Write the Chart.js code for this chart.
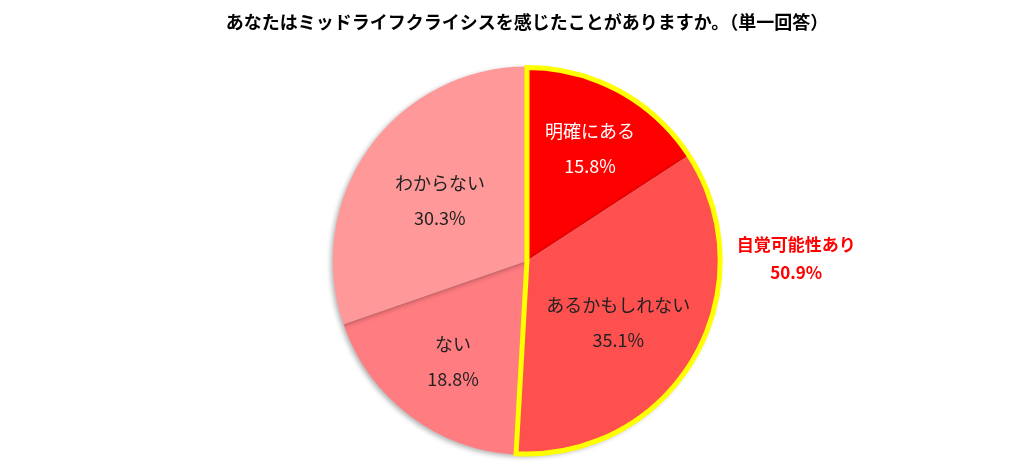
<!DOCTYPE html>
<html><head><meta charset="utf-8">
<script src="https://cdn.jsdelivr.net/npm/chart.js@4/dist/chart.umd.min.js"></script>
<style>html,body{margin:0;padding:0;background:#fff;}canvas{display:block;}</style>
</head><body>
<canvas id="c" width="1024" height="474"></canvas>
<script>
const categories = ["明確にある", "あるかもしれない", "ない", "わからない"];
const values = [15.8, 35.1, 18.8, 30.3];
const valueLabels = ["15.8%", "35.1%", "18.8%", "30.3%"];
const sliceColors = ["#FF0000", "#FF5050", "#FF7C80", "#FF9999"];
const labelColors = ["#FFFFFF", "#222222", "#222222", "#222222"];
const titleText = "あなたはミッドライフクライシスを感じたことがありますか。（単一回答）";
const noteLines = ["自覚可能性あり", "50.9%"];
const FONT = "'Noto Sans CJK JP', 'Noto Sans', sans-serif";

const shadowPlugin = {
  id: 'shadow',
  beforeDatasetsDraw(chart) {
    const ctx = chart.ctx; ctx.save();
    ctx.shadowColor = 'rgba(0,0,0,0.30)'; ctx.shadowBlur = 5; ctx.shadowOffsetX = -2; ctx.shadowOffsetY = 2;
  },
  afterDatasetsDraw(chart) { chart.ctx.restore(); }
};

const overlayPlugin = {
  id: 'overlay',
  afterDatasetsDraw(chart) {
    const ctx = chart.ctx;
    const meta = chart.getDatasetMeta(0);
    const a0 = meta.data[0], a1 = meta.data[1];
    const x = a0.x, y = a0.y, r = a0.outerRadius;
    // yellow outline around first two slices
    ctx.save();
    ctx.beginPath();
    ctx.moveTo(x, y);
    ctx.arc(x, y, r - 1, a0.startAngle, a1.endAngle);
    ctx.closePath();
    ctx.lineWidth = 5; ctx.strokeStyle = '#FFFF00'; ctx.lineJoin = 'miter';
    ctx.stroke();
    ctx.restore();
    // data labels
    const fr = [0.667, 0.565, 0.641, 0.548];
    const ang = [0.7, 3.7, -0.6, -0.4];
    ctx.save();
    ctx.textAlign = 'center'; ctx.textBaseline = 'middle';
    ctx.font = "18px " + FONT;
    meta.data.forEach((arc, i) => {
      const mid = (arc.startAngle + arc.endAngle) / 2 + ang[i] * Math.PI / 180;
      const lx = x + Math.cos(mid) * r * fr[i];
      const ly = y + Math.sin(mid) * r * fr[i];
      ctx.fillStyle = labelColors[i];
      ctx.fillText(categories[i], lx, ly - 17);
      ctx.fillText(valueLabels[i], lx, ly + 18);
    });
    ctx.restore();
    // annotation
    ctx.save();
    ctx.textAlign = 'center'; ctx.textBaseline = 'middle';
    ctx.fillStyle = '#FF0000';
    ctx.font = "bold 17px " + FONT;
    const ax = x + r + 75;
    ctx.fillText(noteLines[0], ax, y - 16);
    ctx.fillText(noteLines[1], ax, y + 12);
    ctx.restore();
  }
};

new Chart(document.getElementById('c'), {
  type: 'pie',
  data: {
    labels: categories,
    datasets: [{ data: values, backgroundColor: sliceColors, borderWidth: 0 }]
  },
  options: {
    responsive: false,
    animation: false,
    layout: { padding: { left: 30, right: 0, top: 0, bottom: 19 } },
    plugins: {
      legend: { display: false },
      tooltip: { enabled: false },
      title: {
        display: true, text: titleText, color: '#000',
        font: { family: FONT, size: 18, weight: 'bold' },
        padding: { top: 11, bottom: 34 }
      }
    }
  },
  plugins: [shadowPlugin, overlayPlugin]
});
</script>
</body></html>
